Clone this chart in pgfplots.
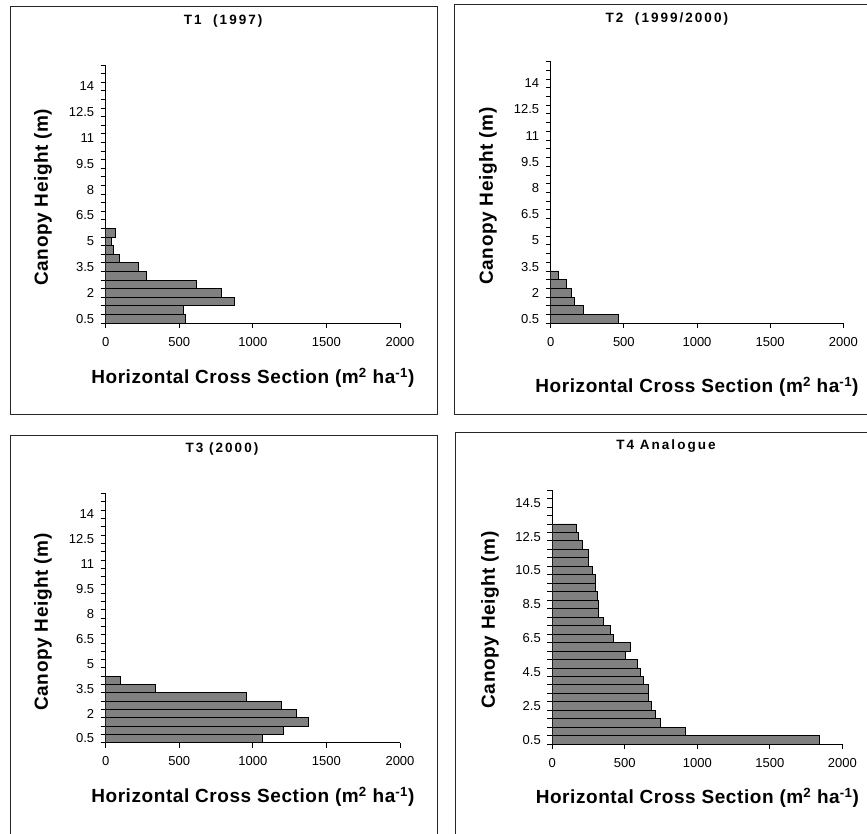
\documentclass[border=0pt]{standalone}
\usepackage{fontspec}
\setmainfont{Liberation Sans}
\newfontfamily\titlefont[LetterSpace=15]{Liberation Sans}
\newfontfamily\labelfont[LetterSpace=3]{Liberation Sans}
\usepackage{pgfplots}
\pgfplotsset{compat=1.18}
\definecolor{barfill}{RGB}{128,128,128}
\pgfplotsset{
  canopy/.style={
    scale only axis,
    xbar,
    xmin=0, xmax=2000, ymin=0.25, ymax=15.25,
    axis x line*=bottom, axis y line*=left,
    axis line style={-, line width=0.9pt, black},
    xtick={0,500,1000,1500,2000},
    xticklabels={0,500,1000,1500,2000},
    tick align=outside,
    major tick length=5pt, minor tick length=5pt,
    every tick/.style={black, line width=0.8pt},
    major y tick style={draw=none},
    minor ytick={0.25,0.75,...,15.25},
    tick label style={font=\fontsize{13}{15}\selectfont},
    xticklabel style={anchor=north, yshift=-5.5pt},
    yticklabel style={anchor=east, xshift=-3pt},
    title style={font=\titlefont\bfseries\fontsize{13.5}{15}\selectfont, anchor=center},
    xlabel style={font=\labelfont\bfseries\fontsize{19}{22}\selectfont, anchor=center},
    ylabel style={font=\labelfont\bfseries\fontsize{19}{22}\selectfont, anchor=center, rotate=0},
    xlabel={Horizontal Cross Section (m\textsuperscript{2} ha\textsuperscript{-1})},
    ylabel={Canopy Height (m)},
    bar width=0.5,
  },
  barsty/.style={fill=barfill, draw=black, line width=0.8pt},
}
\begin{document}
\begin{tikzpicture}
\useasboundingbox (0,0) rectangle (867pt,-833pt);
% frames
\draw[line width=1pt, black!85] (10pt,-6pt) rectangle (437pt,-414pt);
\draw[line width=1pt, black!85] (870pt,-4pt) -- (454pt,-4pt) -- (454pt,-414pt) -- (870pt,-414pt);
\draw[line width=1pt, black!85] (437pt,-840pt) -- (437pt,-435pt) -- (10pt,-435pt) -- (10pt,-840pt);
\draw[line width=1pt, black!85] (870pt,-432pt) -- (455pt,-432pt) -- (455pt,-840pt);

% T1
\begin{axis}[canopy, width=294.3pt, height=258pt, at={(105.7pt,-323pt)}, anchor=south west,
  title={T1\ \ (1997)},
  title style={at={(axis description cs:0.399,1.147)}},
  xlabel style={at={(axis description cs:0.5,-0.213)}},
  ylabel style={at={(axis description cs:-0.213,0.488)}},
  ytick={0.5,2,3.5,5,6.5,8,9.5,11,12.5,14},
  yticklabels={0.5,2,3.5,5,6.5,8,9.5,11,12.5,14}]
\addplot[barsty] coordinates {(544,0.5) (530,1) (878,1.5) (785,2) (613,2.5) (274,3) (224,3.5) (91,4) (51,4.5) (41,5) (63,5.5)};
\end{axis}

% T2
\begin{axis}[canopy, width=292.6pt, height=261.8pt, at={(550.7pt,-323.3pt)}, anchor=south west,
  title={T2\ \ (1999/2000)},
  title style={at={(axis description cs:0.397,1.139)}},
  xlabel style={at={(axis description cs:0.5,-0.243)}},
  ylabel style={at={(axis description cs:-0.214,0.486)}},
  ytick={0.5,2,3.5,5,6.5,8,9.5,11,12.5,14},
  yticklabels={0.5,2,3.5,5,6.5,8,9.5,11,12.5,14}]
\addplot[barsty] coordinates {(462,0.5) (223,1) (162,1.5) (141,2) (109,2.5) (52,3)};
\end{axis}

% T3
\begin{axis}[canopy, width=294.3pt, height=249pt, at={(105.7pt,-742.5pt)}, anchor=south west,
  title={T3 (2000)},
  title style={at={(axis description cs:0.395,1.155)}},
  xlabel style={at={(axis description cs:0.5,-0.219)}},
  ylabel style={at={(axis description cs:-0.213,0.484)}},
  ytick={0.5,2,3.5,5,6.5,8,9.5,11,12.5,14},
  yticklabels={0.5,2,3.5,5,6.5,8,9.5,11,12.5,14}]
\addplot[barsty] coordinates {(1064,0.5) (1206,1) (1379,1.5) (1296,2) (1195,2.5) (959,3) (336,3.5) (101,4)};
\end{axis}

% T4
\begin{axis}[canopy, width=290pt, height=254.2pt, at={(552.3pt,-744.2pt)}, anchor=south west,
  title={T4 Analogue},
  title style={at={(axis description cs:0.392,1.149)}},
  xlabel style={at={(axis description cs:0.5,-0.212)}},
  ylabel style={at={(axis description cs:-0.215,0.489)}},
  ytick={0.5,2.5,4.5,6.5,8.5,10.5,12.5,14.5},
  yticklabels={0.5,2.5,4.5,6.5,8.5,10.5,12.5,14.5}]
\addplot[barsty] coordinates {(1842,0.5) (921,1) (744,1.5) (714,2) (682,2.5) (661,3) (661,3.5) (631,4) (608,4.5) (589,5) (506,5.5) (538,6) (422,6.5) (401,7) (350,7.5) (318,8) (318,8.5) (309,9) (298,9.5) (298,10) (278,10.5) (251,11) (251,11.5) (207,12) (177,12.5) (166,13)};
\end{axis}
\end{tikzpicture}
\end{document}
